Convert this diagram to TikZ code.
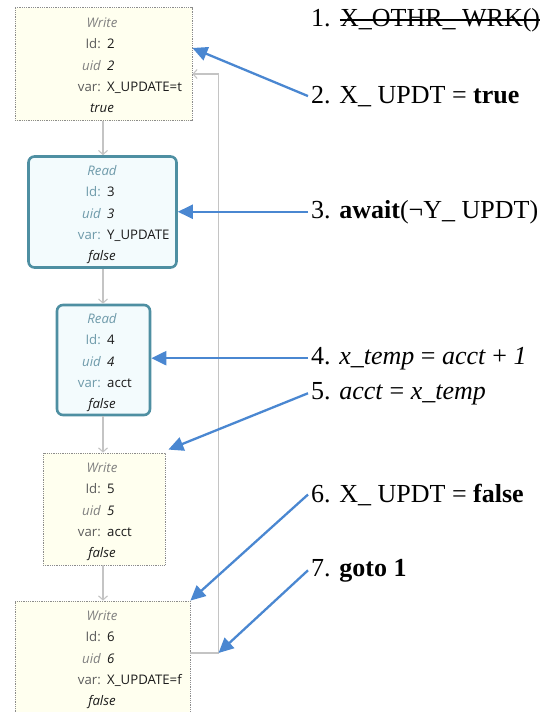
\documentclass[tikz,border=0pt]{standalone}
\usepackage{fontspec}
\setmainfont{Liberation Serif}
\newfontfamily\boxfont{Open Sans}
\usetikzlibrary{arrows.meta,calc}

\definecolor{writefill}{HTML}{FFFFEF}
\definecolor{writeedge}{HTML}{8C8C8C}
\definecolor{readfill}{HTML}{F3FBFD}
\definecolor{readedge}{HTML}{4E8FA2}
\definecolor{readkey}{HTML}{6E9AAA}
\definecolor{writekey}{HTML}{5C5C5C}
\definecolor{writesoft}{HTML}{808080}
\definecolor{valink}{HTML}{1A1A1A}
\definecolor{flowgray}{HTML}{C4C4C4}
\definecolor{noteblue}{HTML}{4A87D1}

\newcommand\boxsize{\fontsize{13.2}{15}\selectfont}
\tikzset{
  writebox/.style={draw=writeedge, densely dotted, line width=0.8pt, fill=writefill, inner sep=0},
  readbox/.style={draw=readedge, line width=2.6pt, rounded corners=6pt, fill=readfill, inner sep=0},
  cell/.style={inner sep=0, font=\boxfont\boxsize},
  slanted/.style={font=\boxfont\itshape\boxsize},
  wtitle/.style={cell, slanted, anchor=mid, text=writesoft},
  wkey/.style={cell, anchor=mid east, text=writekey},
  wuid/.style={cell, slanted, anchor=mid east, text=writesoft},
  rtitle/.style={cell, slanted, anchor=mid, text=readkey},
  rkey/.style={cell, anchor=mid east, text=readkey},
  ruid/.style={cell, slanted, anchor=mid east, text=readkey},
  valtxt/.style={cell, anchor=mid west, text=valink},
  uidval/.style={cell, slanted, anchor=mid west, text=valink},
  booltxt/.style={cell, slanted, anchor=mid, text=valink},
  flow/.style={draw=flowgray, line width=1.1pt, -{Straight Barb[length=4pt,width=9pt]}},
  note/.style={anchor=base west, inner sep=3pt, font=\fontsize{26}{30}\selectfont},
  strike/.style={draw=black, line width=1.2pt},
  pointer/.style={draw=noteblue, line width=2.3pt, -{Triangle[length=15pt,width=14pt]}}
}

% rows of one statement box: prefix, top row y, title, style set, id, variable, outcome
\newcommand\boxrows[7]{%
  \node[#4title] (#1t) at (102,{#2+3}) {#3};
  \node[#4key]  (#1ik) at (101,{#2+24.5}) {Id:};
  \node[valtxt] (#1iv) at (107,{#2+24.5}) {#5};
  \node[#4uid]  (#1uk) at (101,{#2+46}) {uid};
  \node[uidval] (#1uv) at (107,{#2+46}) {#5};
  \node[#4key]  (#1vk) at (101,{#2+67}) {var:};
  \node[valtxt] (#1vv) at (107,{#2+67}) {#6};
  \node[booltxt] (#1b) at (102,{#2+88.5}) {#7};
}

\begin{document}
\begin{tikzpicture}[x=1pt,y=-1pt]
\useasboundingbox (0,0) rectangle (550,712);
\clip (0,0) rectangle (550,712);

% statement boxes
\node[writebox, minimum width=177, minimum height=113] (b1) at (103.5,64) {};
\node[readbox,  minimum width=148, minimum height=111] (b2) at (102.5,212) {};
\node[readbox,  minimum width=93,  minimum height=110] (b3) at (103.5,360) {};
\node[writebox, minimum width=122, minimum height=112] (b4) at (104,509) {};
\node[writebox, minimum width=175, minimum height=139] (b5) at (102.5,670.5) {};

\boxrows{w2}{22}{Write}{w}{2}{X\_UPDATE=t}{true}
\boxrows{r3}{170}{Read}{r}{3}{Y\_UPDATE}{false}
\boxrows{r4}{318}{Read}{r}{4}{acct}{false}
\boxrows{w5}{467}{Write}{w}{5}{acct}{false}
\boxrows{w6}{615}{Write}{w}{6}{X\_UPDATE=f}{false}

% control flow
\draw[flow] (b1.south -| 103,0) -- (b2.north -| 103,0);
\draw[flow] (b2.south -| 103,0) -- (b3.north -| 103,0);
\draw[flow] (b3.south -| 103,0) -- (b4.north -| 103,0);
\draw[flow] (b4.south -| 103,0) -- (b5.north -| 103,0);
\coordinate (loopc) at (218.5,653);
\draw[flow] (b5.east |- loopc) -- (loopc) -- (218.5,74) -- (b1.east |- 0,74);

% source lines
\node[note] (l1) at (308,27)  {1.};
\node[note, inner sep=0, anchor=base west] (l1s) at ([xshift=6pt]l1.base east) {X\_OTHR\_ WRK()};
\draw[strike] ($(l1s.base west)+(0,-7)$) -- ($(l1s.base east)+(0,-7)$);
\node[note] (l2) at (308,103) {2. X\_ UPDT = \textbf{true}};
\node[note] (l3) at (308,218) {3. \textbf{await}(¬Y\_ UPDT)};
\node[note] (l4) at (308,364) {4. \textit{x\_temp} = \textit{acct} + \textit{1}};
\node[note] (l5) at (308,399) {5. \textit{acct} = \textit{x\_temp}};
\node[note] (l6) at (308,502) {6. X\_ UPDT = \textbf{false}};
\node[note] (l7) at (308,576) {7. \textbf{goto 1}};

% pointers from source lines to boxes
\draw[pointer] (l2.west) -- (b1.east |- 0,48);
\draw[pointer] (l3.west) -- (b2.east |- l3.west);
\draw[pointer] (l4.west) -- (b3.east |- l4.west);
\draw[pointer] (l5.west) -- ($(b4.north east)+(3,-3)$);
\draw[pointer] (l6.west) -- (b5.north east);
\draw[pointer] (l7.west) -- (loopc);
\end{tikzpicture}
\end{document}
